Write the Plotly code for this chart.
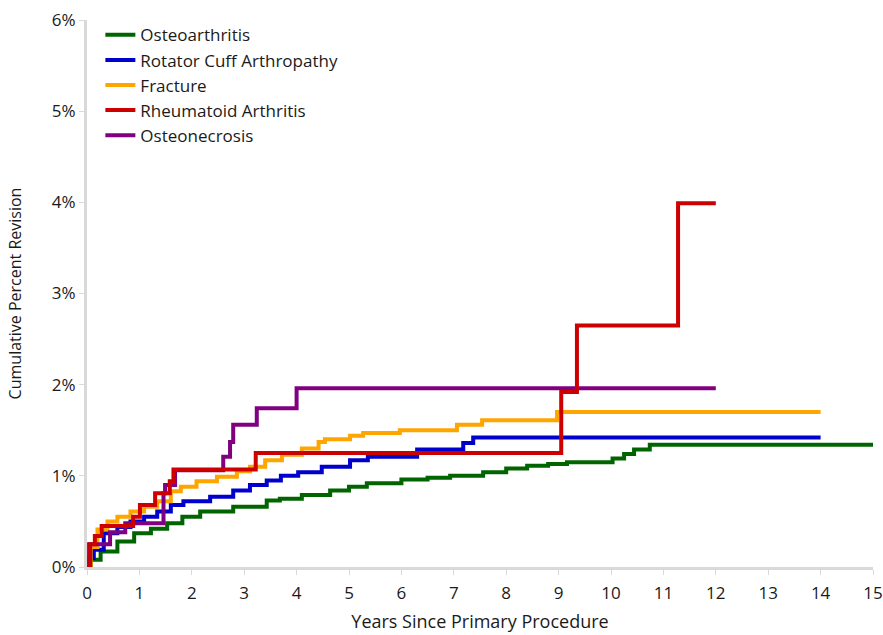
import plotly.graph_objects as go

# cumulative percent revision (years, percent)
oa_years = [0, 0.07, 0.26, 0.58, 0.9, 1.22, 1.53, 1.82, 2.16, 2.79, 3.43, 3.68,
            4.1, 4.64, 5.0, 5.34, 6.0, 6.5, 6.93, 7.56, 8.0, 8.4, 8.8, 9.16,
            10.03, 10.25, 10.44, 10.74, 15]
oa_pct = [0, 0.08, 0.17, 0.28, 0.37, 0.42, 0.48, 0.55, 0.61, 0.66, 0.73, 0.75,
          0.79, 0.84, 0.88, 0.92, 0.96, 0.98, 1.00, 1.04, 1.08, 1.11, 1.13, 1.15,
          1.19, 1.24, 1.29, 1.34, 1.34]

rca_years = [0, 0.05, 0.13, 0.32, 0.58, 0.83, 1.09, 1.34, 1.6, 1.84, 2.35, 2.79,
             3.11, 3.43, 3.7, 4.03, 4.48, 5.02, 5.36, 6.3, 7.18, 7.37, 14]
rca_pct = [0, 0.10, 0.19, 0.37, 0.44, 0.50, 0.55, 0.61, 0.68, 0.72, 0.77, 0.84,
           0.90, 0.95, 1.00, 1.04, 1.10, 1.17, 1.21, 1.29, 1.36, 1.42, 1.42]

fx_years = [0, 0.07, 0.2, 0.39, 0.58, 0.83, 1.09, 1.34, 1.6, 1.79, 2.09, 2.48,
            2.86, 3.11, 3.4, 3.72, 4.1, 4.42, 4.54, 5.02, 5.27, 5.97, 7.06, 7.54,
            8.97, 14]
fx_pct = [0, 0.22, 0.41, 0.50, 0.55, 0.61, 0.66, 0.72, 0.83, 0.88, 0.94, 0.99,
          1.05, 1.10, 1.17, 1.23, 1.30, 1.37, 1.40, 1.44, 1.47, 1.50, 1.56, 1.61,
          1.70, 1.70]

ra_years = [0, 0.06, 0.15, 0.28, 0.88, 1.01, 1.30, 1.58, 1.65, 3.22, 9.05, 9.35,
            11.28, 12]
ra_pct = [0, 0.25, 0.34, 0.45, 0.55, 0.68, 0.81, 0.94, 1.07, 1.25, 1.92, 2.65,
          3.99, 3.99]

on_years = [0, 0.04, 0.44, 0.73, 1.46, 1.49, 1.68, 2.60, 2.73, 2.79, 3.24, 4.0, 12]
on_pct = [0, 0.25, 0.38, 0.48, 0.81, 0.90, 1.06, 1.21, 1.37, 1.56, 1.74, 1.96, 1.96]

series = [
    ('Osteoarthritis', oa_years, oa_pct, '#006400', 1),
    ('Rotator Cuff Arthropathy', rca_years, rca_pct, '#0000CC', 2),
    ('Fracture', fx_years, fx_pct, '#FFA500', 3),
    ('Osteonecrosis', on_years, on_pct, '#800080', 5),
    ('Rheumatoid Arthritis', ra_years, ra_pct, '#CC0000', 4),
]

x_ticks = list(range(0, 16))
y_ticks = list(range(0, 7))
y_labels = [f'{v}%' for v in y_ticks]

FONT = 'Open Sans'
AXIS_GREY = '#d9d9d9'

fig = go.Figure()
for name, years, pct, colour, rank in series:
    fig.add_trace(go.Scatter(
        x=years, y=pct, name=name, mode='lines',
        line=dict(color=colour, width=4, shape='hv'),
        legendrank=rank,
    ))

fig.update_layout(
    width=883, height=635,
    margin=dict(l=87, r=10, t=20, b=68),
    paper_bgcolor='white', plot_bgcolor='white',
    font=dict(family=FONT, size=16, color='#1a1a1a'),
    legend=dict(
        x=0.017, y=1.005, xanchor='left', yanchor='top',
        bgcolor='rgba(0,0,0,0)', font=dict(size=17),
        tracegroupgap=0,
    ),
    showlegend=True,
)

fig.update_xaxes(
    range=[0, 15], tickvals=x_ticks,
    showgrid=False, zeroline=False, automargin=False,
    showline=True, linecolor=AXIS_GREY, linewidth=3,
    ticks='outside', ticklen=5, tickcolor=AXIS_GREY,
    ticklabelstandoff=4,
    tickfont=dict(size=17),
    title=dict(text='Years Since Primary Procedure', font=dict(size=18), standoff=12),
)
fig.update_yaxes(
    range=[0, 6], tickvals=y_ticks, ticktext=y_labels,
    showgrid=False, zeroline=False, automargin=False,
    showline=True, linecolor=AXIS_GREY, linewidth=3,
    ticks='outside', ticklen=5, tickcolor=AXIS_GREY,
    tickfont=dict(size=17),
    title=dict(text='Cumulative Percent Revision', font=dict(size=16), standoff=27),
)

# the page's default body margin would push the chart 8px off
fig.write_html("out.html", config={'displayModeBar': False},
               post_script="document.body.style.margin = '0px';")
